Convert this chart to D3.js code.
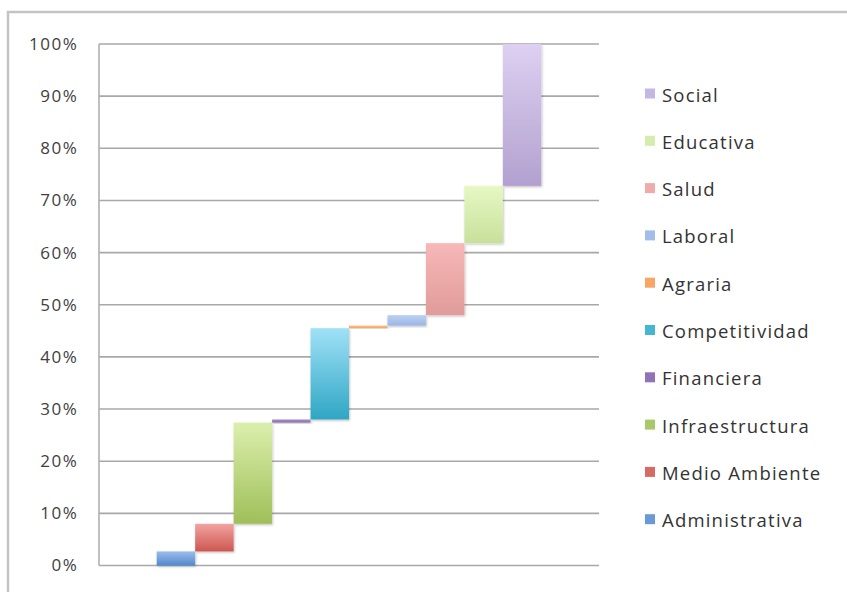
<!DOCTYPE html>
<html>
<head>
<meta charset="utf-8">
<script src="https://cdn.jsdelivr.net/npm/d3@7"></script>
<style>
  html, body { margin: 0; padding: 0; background: #fff; }
  svg { display: block; }
  text { font-family: "Open Sans", "DejaVu Sans", sans-serif; }
</style>
</head>
<body>
<svg id="chart" width="847" height="592"></svg>
<script>
// ---- data ----
const categories = ["Administrativa", "Medio Ambiente", "Infraestructura", "Financiera", "Competitividad", "Agraria", "Laboral", "Salud", "Educativa", "Social"];
const values = [2.7, 5.3, 19.4, 0.6, 17.5, 0.5, 2.0, 13.8, 11.0, 27.2];
const yTicks = [0, 10, 20, 30, 40, 50, 60, 70, 80, 90, 100];
const topColors = ["#9dbdea", "#f3a3a1", "#dbefad", "#a58fc8", "#a0e1f7", "#fbc08e", "#bcd0f2", "#f7b8b7", "#e6f8c4", "#ddd0f1"];
const bottomColors = ["#5288cc", "#cc5650", "#9fbf59", "#8a6db3", "#2fa6c4", "#f5a262", "#9ab6e6", "#e09b9a", "#c8e09b", "#b2a1cf"];
const legendSwatch = ["#6a99d8", "#d86a66", "#a9c86a", "#8f72b8", "#45b6d2", "#f7a664", "#a3bdea", "#efaaaa", "#d5ecac", "#c6b6e2"];

const svg = d3.select("#chart");
const defs = svg.append("defs");

// frame
svg.append("path")
  .attr("d", "M8,592 L8,12 L847,12")
  .attr("fill", "none").attr("stroke", "#c4c4c4").attr("stroke-width", 2.5);

const x = d3.scaleBand().domain(categories).range([99, 599]).paddingInner(0).paddingOuter(1.5);
const y = d3.scaleLinear().domain([0, 100]).range([565.5, 44]);

// gridlines
svg.append("g").selectAll("line").data(yTicks).join("line")
  .attr("x1", 99).attr("x2", 599)
  .attr("y1", d => y(d)).attr("y2", d => y(d))
  .attr("stroke", "#a8a8a8").attr("stroke-width", 1.6);
svg.append("line").attr("x1", 99).attr("x2", 99).attr("y1", y(100)).attr("y2", y(0))
  .attr("stroke", "#b0b0b0").attr("stroke-width", 1.6);

// y axis labels
const yAxis = d3.axisLeft(y).tickValues(yTicks).tickFormat(d => d + "%").tickSize(0).tickPadding(20.5);
const gy = svg.append("g").attr("transform", "translate(99,0)").call(yAxis);
gy.select(".domain").remove();
gy.selectAll("text").attr("font-size", 17).attr("fill", "#404040")
  .attr("letter-spacing", 1.6)
  .attr("font-family", "'Open Sans', sans-serif");

// gradients & shadow
categories.forEach((c, i) => {
  const g = defs.append("linearGradient").attr("id", "g" + i)
    .attr("x1", 0).attr("x2", 0).attr("y1", 0).attr("y2", 1);
  g.append("stop").attr("offset", "0%").attr("stop-color", topColors[i]);
  g.append("stop").attr("offset", "100%").attr("stop-color", bottomColors[i]);
});
const f = defs.append("filter").attr("id", "sh").attr("x", "-20%").attr("y", "-20%").attr("width", "140%").attr("height", "140%");
f.append("feDropShadow").attr("dx", 0.8).attr("dy", 1.2).attr("stdDeviation", 1.2).attr("flood-color", "#000").attr("flood-opacity", 0.25);

// bars
const ends = d3.cumsum(values);
const starts = ends.map((e, i) => e - values[i]);
svg.append("g").selectAll("rect").data(categories).join("rect")
  .attr("x", d => x(d))
  .attr("width", x.bandwidth())
  .attr("y", (d, i) => y(ends[i]))
  .attr("height", (d, i) => y(starts[i]) - y(ends[i]))
  .attr("fill", (d, i) => "url(#g" + i + ")")
  .attr("filter", "url(#sh)");

// legend (reversed order)
const legendItems = categories.map((c, i) => ({ c, i })).reverse();
const lg = svg.append("g").selectAll("g").data(legendItems).join("g")
  .attr("transform", (d, k) => `translate(645, ${101.5 + k * 47.3})`);
lg.append("rect").attr("x", 0).attr("y", -13).attr("width", 10).attr("height", 10)
  .attr("fill", d => legendSwatch[d.i]);
lg.append("text").attr("x", 17).attr("y", 0).attr("font-size", 18.5).attr("fill", "#333")
  .attr("letter-spacing", 1.2)
  .text(d => d.c);
</script>
</body>
</html>
